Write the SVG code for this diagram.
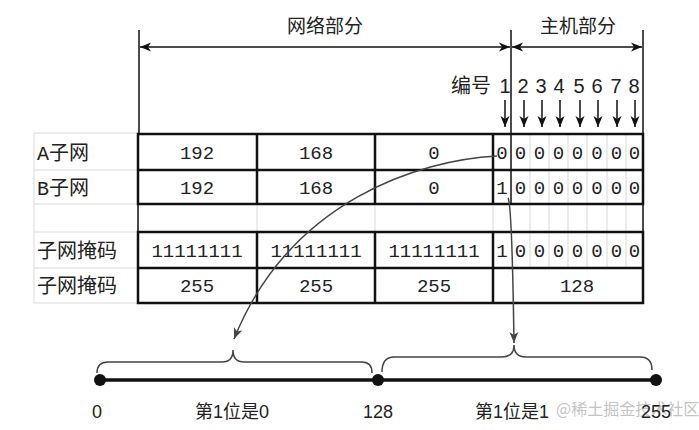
<svg xmlns="http://www.w3.org/2000/svg" width="699" height="430" viewBox="0 0 699 430">
<style>
.grid{stroke:#d9d9d9;stroke-width:1;fill:none}
.thick{stroke:#111;stroke-width:2.5;fill:none}
.ln{stroke:#111;stroke-width:1.5;fill:none}
.lbl{font-family:"Liberation Mono","Noto Sans CJK SC",monospace;font-size:20px;fill:#222}
.num{font-family:"Liberation Mono",monospace;font-size:19px;fill:#222;text-anchor:middle}
.hd{font-family:"Liberation Sans","Noto Sans CJK SC",sans-serif;font-size:19px;fill:#222;text-anchor:middle}
.bt{font-family:"Liberation Sans","Noto Sans CJK SC",sans-serif;font-size:20px;fill:#222;text-anchor:middle}
.bot{font-family:"Liberation Sans","Noto Sans CJK SC",sans-serif;font-size:18px;fill:#222;text-anchor:middle}
.brace{stroke:#444;stroke-width:1.5;fill:none}
.conn{stroke:#444;stroke-width:1.5;fill:none}
</style>
<defs>
<marker id="ah" markerUnits="userSpaceOnUse" markerWidth="12" markerHeight="10" refX="11" refY="5" orient="auto-start-reverse">
<path d="M0,0.5 L11,5 L0,9.5 L3,5 z" fill="#111"/>
</marker>
<marker id="ahg" markerUnits="userSpaceOnUse" markerWidth="12" markerHeight="10" refX="11" refY="5" orient="auto">
<path d="M0,0.5 L11,5 L0,9.5 L3,5 z" fill="#444"/>
</marker>
</defs>
<rect width="699" height="430" fill="#fff"/>

<g id="labels-grid">
<path class="grid" d="M34 133 H138 M34 170 H138 M34 204 H138 M34 232 H138 M34 268 H138 M34 303 H138 M34 133 V303"/>
<path class="grid" d="M257 204 V232 M375 204 V232 M493 204 V232"/>
<path class="grid" d="M530 134 V268 M549 134 V268 M568 134 V268 M587 134 V268 M607 134 V268 M626 134 V268"/>
</g>

<g id="header">
<line class="ln" x1="139" y1="30" x2="139" y2="134"/>
<line class="ln" x1="643" y1="30" x2="643" y2="134"/>
<line class="ln" x1="511" y1="30" x2="511" y2="204"/>
<line class="ln" x1="140" y1="47" x2="510" y2="47" marker-start="url(#ah)" marker-end="url(#ah)"/>
<line class="ln" x1="512" y1="47" x2="642" y2="47" marker-start="url(#ah)" marker-end="url(#ah)"/>
<text class="hd" x="325" y="33">网络部分</text>
<text class="hd" x="578" y="33">主机部分</text>
<text class="bt" x="471" y="93">编号</text>
<text class="bt" x="505" y="93">1</text>
<text class="bt" x="523" y="93">2</text>
<text class="bt" x="541" y="93">3</text>
<text class="bt" x="559" y="93">4</text>
<text class="bt" x="579" y="93">5</text>
<text class="bt" x="597" y="93">6</text>
<text class="bt" x="616" y="93">7</text>
<text class="bt" x="634" y="93">8</text>
<line class="ln" x1="505" y1="100" x2="505" y2="127" marker-end="url(#ah)"/>
<line class="ln" x1="524" y1="100" x2="524" y2="127" marker-end="url(#ah)"/>
<line class="ln" x1="542" y1="100" x2="542" y2="127" marker-end="url(#ah)"/>
<line class="ln" x1="560" y1="100" x2="560" y2="127" marker-end="url(#ah)"/>
<line class="ln" x1="580" y1="100" x2="580" y2="127" marker-end="url(#ah)"/>
<line class="ln" x1="598" y1="100" x2="598" y2="127" marker-end="url(#ah)"/>
<line class="ln" x1="617" y1="100" x2="617" y2="127" marker-end="url(#ah)"/>
<line class="ln" x1="635" y1="100" x2="635" y2="127" marker-end="url(#ah)"/>
</g>

<g id="table">
<path class="thick" d="M138 134 H643 V204 H138 Z M138 170 H643 M257 134 V204 M375 134 V204 M493 134 V204"/>
<path class="thick" d="M138 232 H643 V303 H138 Z M138 268 H643 M257 232 V303 M375 232 V303 M493 232 V303"/>
<path class="ln" d="M138 204 V232 M643 204 V232"/>
<text class="lbl" x="37" y="160">A子网</text>
<text class="lbl" x="37" y="195">B子网</text>
<text class="lbl" x="37" y="258">子网掩码</text>
<text class="lbl" x="37" y="293">子网掩码</text>
<text class="num" x="197" y="159">192</text>
<text class="num" x="316" y="159">168</text>
<text class="num" x="434" y="159">0</text>
<text class="num" x="197" y="194">192</text>
<text class="num" x="316" y="194">168</text>
<text class="num" x="434" y="194">0</text>
<text class="num" x="197" y="257">11111111</text>
<text class="num" x="316" y="257">11111111</text>
<text class="num" x="434" y="257">11111111</text>
<text class="num" x="197" y="292">255</text>
<text class="num" x="316" y="292">255</text>
<text class="num" x="434" y="292">255</text>
<text class="num" x="577" y="292">128</text>
<text class="num" x="502" y="159">0</text>
<text class="num" x="502" y="194">1</text>
<text class="num" x="502" y="257">1</text>
<text class="num" x="520.5" y="159">0</text><text class="num" x="539.5" y="159">0</text><text class="num" x="558.5" y="159">0</text><text class="num" x="577.5" y="159">0</text><text class="num" x="597" y="159">0</text><text class="num" x="616.5" y="159">0</text><text class="num" x="634.5" y="159">0</text>
<text class="num" x="520.5" y="194">0</text><text class="num" x="539.5" y="194">0</text><text class="num" x="558.5" y="194">0</text><text class="num" x="577.5" y="194">0</text><text class="num" x="597" y="194">0</text><text class="num" x="616.5" y="194">0</text><text class="num" x="634.5" y="194">0</text>
<text class="num" x="520.5" y="257">0</text><text class="num" x="539.5" y="257">0</text><text class="num" x="558.5" y="257">0</text><text class="num" x="577.5" y="257">0</text><text class="num" x="597" y="257">0</text><text class="num" x="616.5" y="257">0</text><text class="num" x="634.5" y="257">0</text>
</g>

<g id="connectors">
<path class="conn" d="M497 156 C420 160 290 200 234 339" marker-end="url(#ahg)"/>
<path class="conn" d="M508 198 Q512 204 514 343" marker-end="url(#ahg)"/>
</g>

<g id="numberline">
<line x1="100" y1="380" x2="656" y2="380" stroke="#111" stroke-width="3.5"/>
<circle cx="100" cy="380" r="6" fill="#111"/>
<circle cx="378" cy="380" r="6" fill="#111"/>
<circle cx="656" cy="380" r="6" fill="#111"/>
<path class="brace" d="M97 373 Q97 362 108 362 L222 362 Q233 362 233 350 Q233 362 244 362 L362 362 Q372 362 372 373"/>
<path class="brace" d="M382 372 Q382 357 394 357 L502 357 Q514 357 514 345 Q514 357 526 357 L640 357 Q652 357 652 370"/>
<text class="bot" x="97" y="418">0</text>
<text class="bot" x="232" y="418">第1位是0</text>
<text class="bot" x="378" y="418">128</text>
<text font-family="'Noto Sans CJK SC',sans-serif" font-size="16" fill="#c4c4c4" x="556" y="415">@稀土掘金技术社区</text>
<text class="bot" x="512" y="418">第1位是1</text>
<text class="bot" x="656" y="418">255</text>
</g>
</svg>
